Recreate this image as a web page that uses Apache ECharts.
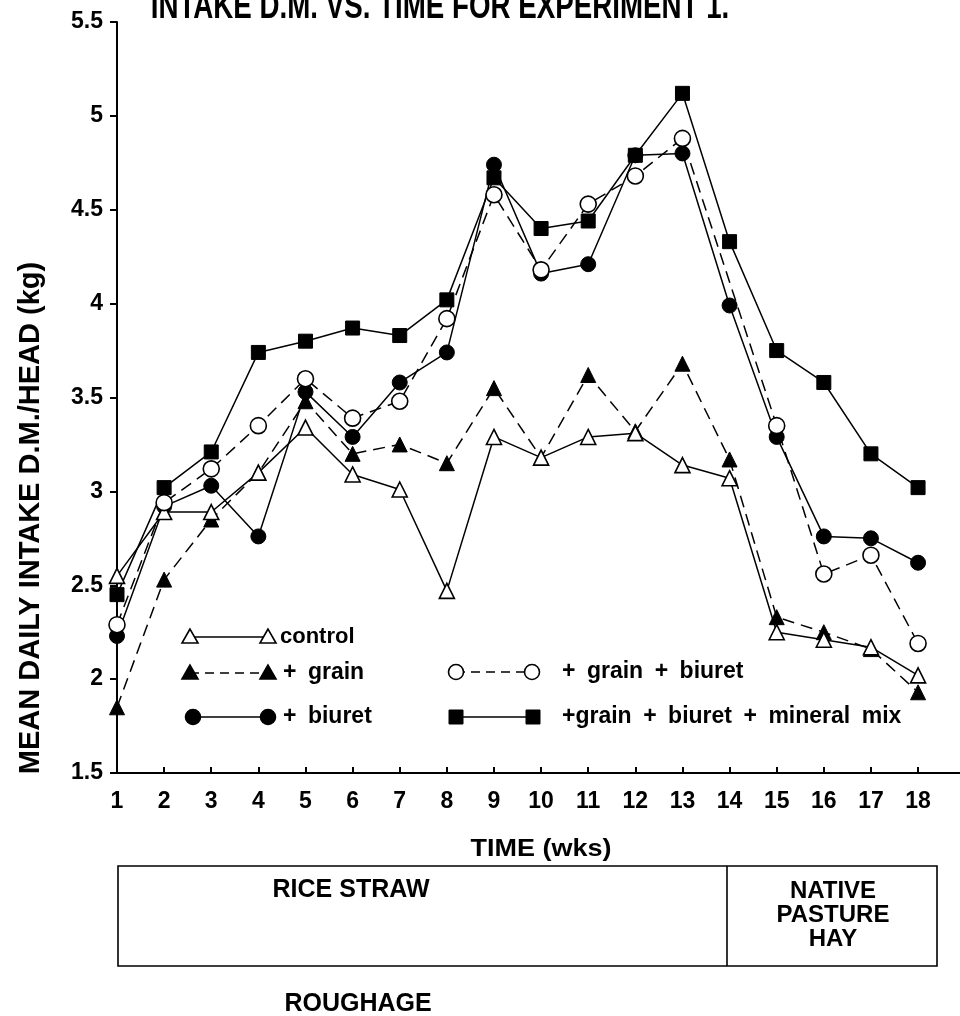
<!DOCTYPE html>
<html><head><meta charset="utf-8">
<script src="https://cdn.jsdelivr.net/npm/echarts@6/dist/echarts.min.js"></script>
<style>html,body{margin:0;padding:0;background:#fff}#c{width:960px;height:1016px}</style>
</head><body><div id="c"></div>
<script>
const weeks = [1,2,3,4,5,6,7,8,9,10,11,12,13,14,15,16,17,18];
const yTicks = [1.5,2,2.5,3,3.5,4,4.5,5,5.5];
const control     = [2.55,2.89,2.89,3.10,3.34,3.09,3.01,2.47,3.29,3.18,3.29,3.31,3.14,3.07,2.25,2.21,2.17,2.02];
const grain       = [1.85,2.53,2.85,3.10,3.48,3.20,3.25,3.15,3.55,3.18,3.62,3.32,3.68,3.17,2.33,2.25,2.16,1.93];
const biuret      = [2.23,2.92,3.03,2.76,3.53,3.29,3.58,3.74,4.74,4.16,4.21,4.79,4.80,3.99,3.29,2.76,2.75,2.62];
const grainBiuret = [2.29,2.94,3.12,3.35,3.60,3.39,3.48,3.92,4.58,4.18,4.53,4.68,4.88,null,3.35,2.56,2.66,2.19];
const mineralMix  = [2.45,3.02,3.21,3.74,3.80,3.87,3.83,4.02,4.67,4.40,4.44,4.79,5.12,4.33,3.75,3.58,3.20,3.02];
const legendLabels = ['control','+ grain','+ biuret','+ grain + biuret','+grain + biuret + mineral mix'];

const BOLD = 'Liberation Sans, Arial, sans-serif';
const pairs = arr => weeks.map((w,i)=>[w, arr[i]]);
const openStyle = {color:'#fff', borderColor:'#000', borderWidth:1.6};
const fillStyle = {color:'#000', borderColor:'#000', borderWidth:1};
const dash = [12,7];
const wide = s => s.replace(/ /g, '\u2002');

function mkSeries(name, data, symbol, size, filled, dashed){
  return {name, type:'line', data:pairs(data), symbol, symbolSize:size, connectNulls:true,
    showAllSymbol:true, animation:false,
    lineStyle:{color:'#000', width:1.5, type: dashed?dash:'solid'},
    itemStyle: filled?fillStyle:openStyle, z: filled?3:4};
}

function tri(x,y,filled){return {type:'polygon', shape:{points:[[x,y-8],[x-8,y+6],[x+8,y+6]]}, style:{fill:filled?'#000':'#fff', stroke:'#000', lineWidth:1.6}, z:10};}
function circ(x,y,filled){return {type:'circle', shape:{cx:x,cy:y,r:7.5}, style:{fill:filled?'#000':'#fff', stroke:'#000', lineWidth:1.6}, z:10};}
function sq(x,y){return {type:'rect', shape:{x:x-7,y:y-7,width:14,height:14}, style:{fill:'#000', stroke:'#000'}, z:10};}
function seg(x1,x2,y,dashed){return {type:'line', shape:{x1,y1:y,x2,y2:y}, style:{stroke:'#000', lineWidth:1.5, lineDash: dashed?[9,6]:null}, z:9};}
function txt(text,x,y,opts,extra){return Object.assign({type:'text', x, y, style:Object.assign({text, fill:'#000', font:'bold 23px '+BOLD, align:'left', verticalAlign:'middle'}, opts||{}), z:10}, extra||{});}

const graphics = [
  txt('INTAKE D.M. VS. TIME FOR EXPERIMENT 1.', 440, 8, {font:'bold 36px '+BOLD, align:'center'}, {scaleX:0.77}),
  {type:'text', x:31, y:518, rotation:Math.PI/2, style:{text:'MEAN DAILY INTAKE D.M./HEAD (kg)', fill:'#000', font:'bold 29px '+BOLD, align:'center', verticalAlign:'middle'}},
  seg(190,268,637,false), tri(190,637,false), tri(268,637,false), txt(legendLabels[0],280,637,{font:'bold 22px '+BOLD}),
  seg(190,268,673,true), tri(190,673,true), tri(268,673,true), txt(wide(legendLabels[1]),283,673),
  seg(193,268,717,false), circ(193,717,true), circ(268,717,true), txt(wide(legendLabels[2]),283,717),
  seg(456,532,672,true), circ(456,672,false), circ(532,672,false), txt(wide(legendLabels[3]),562,672),
  seg(456,533,717,false), sq(456,717), sq(533,717), txt(wide(legendLabels[4]),562,717),
  txt('TIME (wks)', 541, 849, {font:'bold 27px '+BOLD, align:'center'}, {scaleY:0.9}),
  {type:'rect', shape:{x:118,y:866,width:819,height:100}, style:{fill:'none', stroke:'#000', lineWidth:1.6}},
  {type:'line', shape:{x1:727,y1:866,x2:727,y2:966}, style:{stroke:'#000', lineWidth:1.6}},
  txt('RICE STRAW', 351, 890, {font:'bold 25px '+BOLD, align:'center'}),
  txt('NATIVE', 833, 891, {font:'bold 24px '+BOLD, align:'center'}),
  txt('PASTURE', 833, 915, {font:'bold 24px '+BOLD, align:'center'}),
  txt('HAY', 833, 939, {font:'bold 24px '+BOLD, align:'center'}),
  txt('ROUGHAGE', 358, 1004, {font:'bold 25px '+BOLD, align:'center'})
];

const chart = echarts.init(document.getElementById('c'), null, {renderer:'canvas'});
chart.setOption({
  backgroundColor:'#fff',
  animation:false,
  grid:{left:117, right:0, top:22, bottom:243, containLabel:false},
  xAxis:{type:'value', min:1, max:18.89, interval:1,
    axisLine:{show:true, onZero:false, lineStyle:{color:'#000', width:2}},
    axisTick:{show:true, inside:true, length:6, customValues:weeks, lineStyle:{color:'#000', width:2}},
    axisLabel:{customValues:weeks, color:'#000', fontWeight:'bold', fontSize:23, fontFamily:BOLD, margin:17},
    splitLine:{show:false}},
  yAxis:{type:'value', min:1.5, max:5.5, interval:0.5,
    axisLine:{show:true, onZero:false, lineStyle:{color:'#000', width:2}},
    axisTick:{show:true, inside:false, length:7, customValues:yTicks, lineStyle:{color:'#000', width:2}},
    axisLabel:{customValues:yTicks, color:'#000', fontWeight:'bold', fontSize:23, fontFamily:BOLD, margin:14},
    splitLine:{show:false}},
  series:[
    mkSeries('control', control, 'triangle', 15, false, false),
    mkSeries('+ grain', grain, 'triangle', 15, true, true),
    mkSeries('+ biuret', biuret, 'circle', 15, true, false),
    mkSeries('+ grain + biuret', grainBiuret, 'circle', 16, false, true),
    mkSeries('+ grain + biuret + mineral mix', mineralMix, 'rect', 14, true, false)
  ],
  graphic:graphics
});
</script></body></html>
